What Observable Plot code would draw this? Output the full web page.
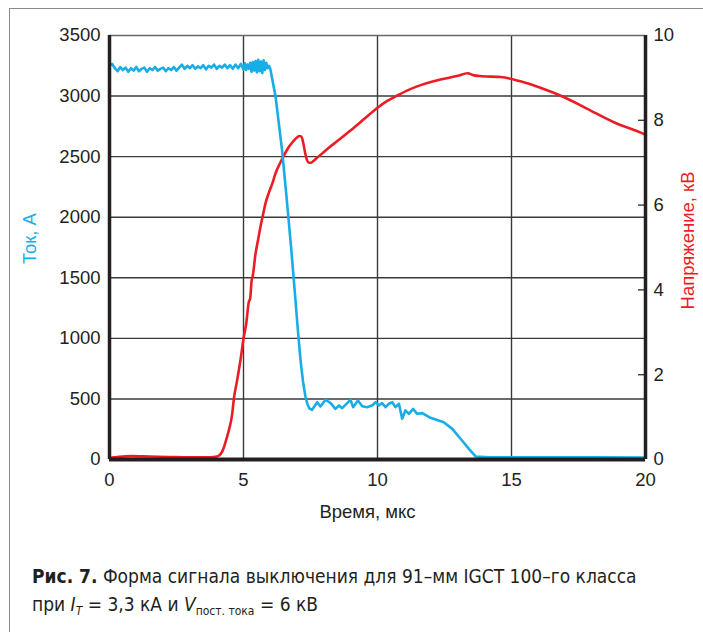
<!DOCTYPE html>
<html><head><meta charset="utf-8">
<script src="https://cdn.jsdelivr.net/npm/d3@7"></script>
<script src="https://cdn.jsdelivr.net/npm/@observablehq/plot@0.6"></script>
<style>
body{margin:0;background:#fff;}
#wrap{position:relative;width:703px;height:632px;overflow:hidden;background:#fff;}
#frame{position:absolute;left:9px;top:8px;width:720px;height:700px;border-left:1.5px solid #8a8a8a;border-top:1.5px solid #8a8a8a;}
#chart{position:absolute;left:0;top:0;}
#caption{position:absolute;left:32px;top:562px;font-family:"Liberation Sans Narrow","DejaVu Sans Condensed",sans-serif;font-size:19px;line-height:28px;color:#231f20;white-space:nowrap;}
#caption sub{font-size:12px;vertical-align:-4px;line-height:0;}
</style></head>
<body>
<div id="wrap"><div id="frame"></div><div id="chart"></div>
<div id="caption"><b>Рис. 7.</b> Форма сигнала выключения для 91–мм IGCT 100–го класса<br>при <i>I</i><sub><i>T</i></sub> = 3,3 кА и <i>V</i><sub>пост. тока</sub> = 6 кВ</div>
</div>
<script>
const xTicks = [0, 5, 10, 15, 20];
const currentTicks = [0, 500, 1000, 1500, 2000, 2500, 3000, 3500];
const voltageTicks = [0, 2, 4, 6, 8, 10];
const voltageInnerTicks = [2, 4, 6, 8];

const currentT = [0,0.1,0.2,0.3,0.4,0.5,0.6,0.7,0.8,0.9,1.0,1.1,1.2,1.3,1.4,1.5,1.6,1.7,1.8,1.9,2.0,2.1,2.2,2.3,2.4,2.5,2.6,2.7,2.8,2.9,3.0,3.1,3.2,3.3,3.4,3.5,3.6,3.7,3.8,3.9,4.0,4.1,4.2,4.3,4.4,4.5,4.6,4.7,4.8,4.9,5.0,5.05,5.1,5.15,5.2,5.25,5.3,5.35,5.4,5.45,5.5,5.55,5.6,5.65,5.7,5.75,5.8,5.85,5.9,5.95,6.0,6.2,6.44,6.6,6.77,6.94,7.03,7.13,7.22,7.31,7.39,7.46,7.56,7.75,7.87,8.06,8.25,8.43,8.56,8.68,8.87,8.99,9.09,9.27,9.43,9.61,9.80,9.93,10.05,10.17,10.3,10.42,10.55,10.67,10.8,10.92,11.04,11.17,11.33,11.48,11.67,11.98,12.47,12.79,13.1,13.41,13.66,14.2,16,18,20];
const currentA = [3250,3265,3230,3205,3240,3215,3235,3200,3230,3210,3240,3205,3225,3235,3200,3230,3215,3240,3210,3225,3235,3205,3230,3215,3240,3210,3235,3260,3225,3250,3230,3255,3225,3245,3230,3255,3220,3250,3235,3260,3225,3250,3235,3260,3230,3255,3225,3260,3230,3265,3220,3270,3215,3260,3225,3275,3200,3280,3210,3290,3195,3300,3205,3285,3190,3295,3215,3275,3230,3250,3225,2990,2551,2180,1767,1313,1065,817,644,520,454,421,410,473,438,493,465,418,446,424,465,493,432,487,440,432,446,473,446,465,432,460,473,432,460,336,405,377,418,377,383,344,308,253,171,88,25,19,18,18,17];

const voltageT = [0,0.3,0.8,1.5,2.2,3.0,3.6,3.9,4.0,4.1,4.2,4.27,4.37,4.45,4.58,4.64,4.76,4.9,5.0,5.1,5.2,5.25,5.3,5.35,5.45,5.55,5.63,5.72,5.82,5.95,6.07,6.19,6.38,6.55,6.69,6.85,7.0,7.08,7.15,7.2,7.25,7.31,7.37,7.44,7.52,7.61,7.75,7.94,8.14,8.5,8.99,9.5,9.99,10.35,10.73,11.1,11.48,12.35,13.0,13.36,13.6,13.9,14.6,15.33,16.08,16.95,17.83,18.8,19.93,20];
const voltageKV = [0.04,0.06,0.08,0.07,0.06,0.05,0.05,0.06,0.07,0.1,0.18,0.29,0.5,0.68,1.08,1.43,1.86,2.4,2.85,3.2,3.72,3.8,4.2,4.35,4.86,5.2,5.48,5.75,6.04,6.3,6.5,6.74,7.01,7.22,7.37,7.5,7.6,7.63,7.62,7.55,7.4,7.2,7.06,7.0,7.0,7.04,7.12,7.22,7.33,7.51,7.76,8.03,8.29,8.45,8.58,8.7,8.8,8.96,9.05,9.11,9.06,9.04,9.02,8.92,8.77,8.55,8.27,7.96,7.68,7.66];

const K = 350; // 1 kV on right axis = 350 A on left axis
const blue = "#17ade6", red = "#ec1c24", ink = "#231f20";
const font = "'Liberation Sans', Arial, sans-serif";
const current = currentT.map((t, i) => ({t, a: currentA[i]}));
const voltage = voltageT.map((t, i) => ({t, v: voltageKV[i]}));

const chart = Plot.plot({
  width: 703, height: 540,
  marginLeft: 109, marginRight: 58, marginTop: 35, marginBottom: 81,
  style: {fontFamily: font, fontSize: "18.5px", color: ink, background: "transparent"},
  x: {domain: [0, 20]},
  y: {domain: [0, 3500]},
  marks: [
    Plot.ruleX([5, 10, 15], {stroke: "#3a3a3a", strokeWidth: 1.4}),
    Plot.ruleY([500, 1000, 1500, 2000, 2500, 3000], {stroke: "#3a3a3a", strokeWidth: 1.4}),
    Plot.ruleY([3500], {stroke: "#6a6a6a", strokeWidth: 1.5}),
    Plot.tickY(voltageInnerTicks, {y: d => d * K, insetLeft: 529, stroke: "#3a3a3a", strokeWidth: 1.4}),
    Plot.line(voltage, {x: "t", y: d => d.v * K, stroke: red, strokeWidth: 2.6, curve: "monotone-x"}),
    Plot.line(current, {x: "t", y: "a", stroke: blue, strokeWidth: 2.6}),
    Plot.ruleX([0, 20], {stroke: ink, strokeWidth: 3.5}),
    Plot.ruleY([0], {stroke: ink, strokeWidth: 4}),
    Plot.axisX({ticks: xTicks, tickSize: 0, tickPadding: 13, tickFormat: d => String(d), label: null}),
    Plot.axisY({anchor: "left", ticks: currentTicks, tickSize: 0, tickPadding: 9, tickFormat: d => String(d), label: null}),
    Plot.axisY({anchor: "right", ticks: voltageTicks.map(v => v * K), tickFormat: d => String(Math.round(d / K)), tickSize: 0, tickPadding: 8, label: null}),
    Plot.text(["Время, мкс"], {frameAnchor: "bottom", textAnchor: "middle", dy: 58, dx: -10, fill: ink, fontSize: 18.5, fontFamily: font}),
    Plot.text(["Ток, А"], {frameAnchor: "left", textAnchor: "middle", rotate: -90, dx: -79, dy: -9, fill: blue, fontSize: 18.5, fontFamily: font}),
    Plot.text(["Напряжение, кВ"], {frameAnchor: "right", textAnchor: "middle", rotate: -90, dx: 43, dy: -7, fill: red, fontSize: 18.5, fontFamily: font})
  ]
});
document.getElementById("chart").appendChild(chart);
</script>
</body></html>
